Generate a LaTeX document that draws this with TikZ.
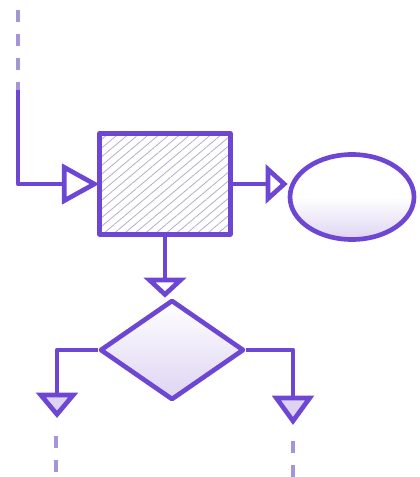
\documentclass[tikz,border=0pt]{standalone}
\usetikzlibrary{arrows.meta,shapes.geometric,patterns.meta}
\definecolor{ink}{RGB}{110,70,212}
\definecolor{hatch}{RGB}{180,170,210}
\definecolor{lav}{RGB}{222,212,242}
\definecolor{dashink}{RGB}{165,148,215}
\tikzset{
  stroke/.style={draw=ink,line width=3.5pt,line join=round,line cap=round},
  boxnode/.style={stroke,rectangle,inner sep=0pt,minimum width=98pt,minimum height=75.5pt,
    pattern={Lines[angle=40,distance=5pt,line width=0.6pt]},pattern color=hatch},
  ovalnode/.style={stroke,ellipse,inner sep=0pt,minimum width=93pt,minimum height=63.75pt,
    top color=white,bottom color=lav,middle color=white},
  decnode/.style={stroke,diamond,inner sep=0pt,minimum width=108pt,minimum height=75pt,
    top color=white,bottom color=lav},
  conn/.style={stroke,line cap=butt},
  dashline/.style={draw=dashink,line width=3.5pt,dash pattern=on 9pt off 9pt},
  tipA/.style={-{Triangle[length=28pt,width=30pt,fill=white]}},
  tipB/.style={-{Triangle[length=16.5pt,width=29pt,fill=white]}},
  tipC/.style={-{Triangle[length=15pt,width=31.5pt,fill=white]}},
  tipD/.style={-{Triangle[length=19pt,width=31pt,fill=lav]}},
  tipE/.style={-{Triangle[length=22pt,width=31pt,fill=lav]}},
}
\begin{document}
\begin{tikzpicture}[x=0.75pt,y=-0.75pt]
\useasboundingbox (0,0) rectangle (419,477);
% nodes
\node[boxnode] (box) at (165,184) {};
\node[ovalnode] (oval) at (352,197) {};
\node[decnode] (dec) at (172,350) {};
% free ends
\coordinate (in0) at (18,10);
\coordinate (in1) at (18,90);
\coordinate (outL) at (57,418);
\coordinate (outR) at (293,425);
\coordinate (dL0) at (56,436);
\coordinate (dL1) at (56,477);
\coordinate (dR0) at (293,441);
\coordinate (dR1) at (293,477);
% connectors
\draw[dashline] (in0) -- (in1);
\draw[conn,tipA] (in1) |- (box.west);
\draw[conn,tipB] (box.east) -- (box.east -| oval.west);
\draw[conn,tipC] (box.south) -- (box.south |- dec.north);
\draw[conn,tipD] (dec.west) -| (outL);
\draw[conn,tipE] (dec.east) -| (outR);
\draw[dashline] (dL0) -- (dL1);
\draw[dashline] (dR0) -- (dR1);
\end{tikzpicture}
\end{document}
